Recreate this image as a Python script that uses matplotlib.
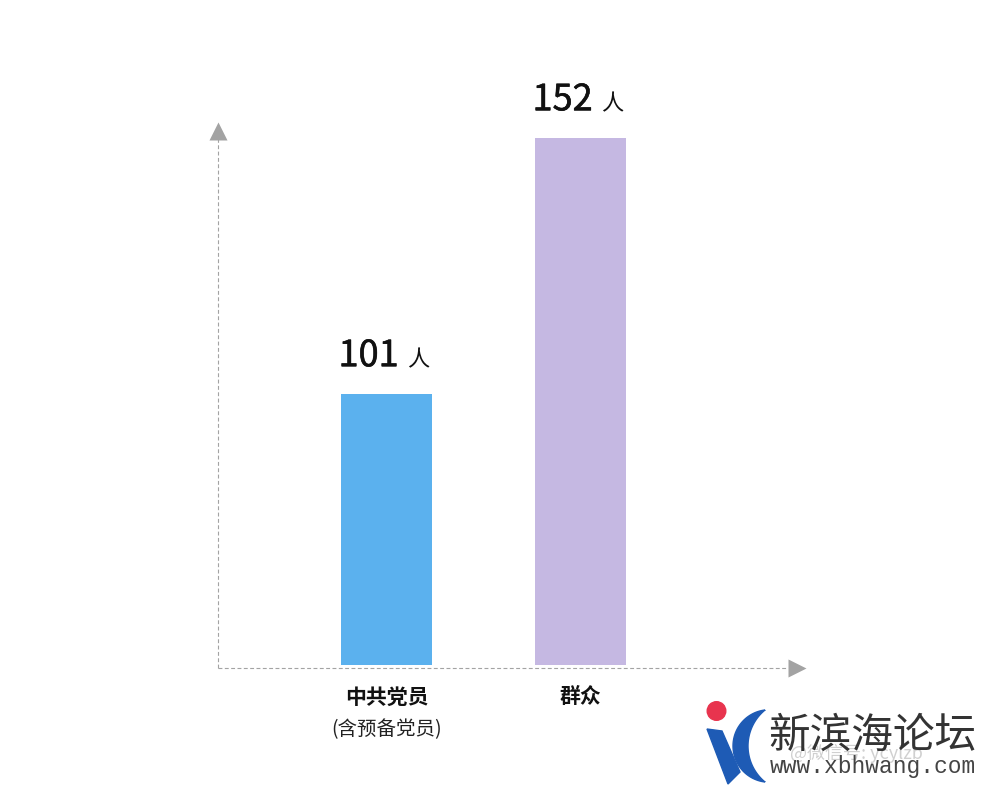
import numpy as np
import matplotlib
matplotlib.use("Agg")
import matplotlib.pyplot as plt
import matplotlib.patheffects as pe
from matplotlib.patches import Circle, Polygon

plt.rcParams['font.family'] = ['Noto Sans CJK SC', 'DejaVu Sans']

categories = ['中共党员', '群众']
sub_labels = ['(含预备党员)', '']
values = [101, 152]
unit = '人'
colors = ['#5BB1EE', '#C5B8E2']

fig = plt.figure(figsize=(10, 8), dpi=100)
ax = fig.add_axes([0.218, 0.165, 0.588, 0.6825])

x = np.arange(len(categories))
y_lo = 46.4
ax.bar(x, np.array(values) - y_lo - 0.6, bottom=y_lo + 0.6, width=0.47,
       color=colors, zorder=2)
ax.set_xlim(-0.869, 2.162)
ax.set_ylim(y_lo, 155.2)
ax.axis('off')

# dashed axes with arrow heads
grey = '#a3a3a3'
dash = (0, (3.5, 2.2))
ax.plot([0, 0], [0, 0.968], transform=ax.transAxes, color=grey, lw=0.8,
        ls=dash, clip_on=False)
ax.plot([0, 0.97], [0, 0], transform=ax.transAxes, color=grey, lw=0.8,
        ls=dash, clip_on=False)
ax.plot(0, 0.9835, marker='^', ms=13, color=grey, mec='none',
        transform=ax.transAxes, clip_on=False)
ax.plot(0.9847, 0, marker='>', ms=13, color=grey, mec='none',
        transform=ax.transAxes, clip_on=False)

# value labels (slightly thickened digits)
thick = [pe.withStroke(linewidth=0.4, foreground='#111111')]
for xi, v in zip(x, values):
    t = ax.annotate(str(v), xy=(xi, v), xytext=(-13, 20),
                    textcoords='offset points', ha='center', va='baseline',
                    fontsize=26, color='#111111', path_effects=thick)
    ax.annotate(unit, xy=(1, 0), xycoords=t, xytext=(6, 2),
                textcoords='offset points', ha='left', va='bottom',
                fontsize=16, color='#111111')

# category labels
tr = ax.get_xaxis_transform()
for xi, c, s in zip(x, categories, sub_labels):
    ax.text(xi, -0.053, c, transform=tr, ha='center', va='center',
            fontsize=15, fontweight='bold', color='#111111')
    if s:
        ax.text(xi, -0.113, s, transform=tr, ha='center', va='center',
                fontsize=14, color='#222222')

# watermark logo
wm = fig.add_axes([0, 0, 1, 1], zorder=5)
wm.set_xlim(0, 1000)
wm.set_ylim(800, 0)
wm.axis('off')
wm.add_patch(Circle((716.5, 711), 9.3, color='#E8344E'))
a1 = np.radians(np.linspace(96.7, 263.3, 60))
a2 = np.radians(np.linspace(230.6, 129.4, 60))
outer = np.column_stack([769.25 + 36.25 * np.cos(a1), 746 + 36.25 * np.sin(a1)])
inner = np.column_stack([794.6 + 46.6 * np.cos(a2), 746 + 46.6 * np.sin(a2)])
wm.add_patch(Polygon(np.vstack([outer, inner]), closed=True, color='#1E5BB5'))
wm.add_patch(Polygon([(707, 729), (722, 731), (740, 772), (728, 784)],
                     closed=True, color='#1E5BB5'))
wm.text(768, 736, '新滨海论坛', fontsize=30, color='#333333', va='center', ha='left')
wm.text(790, 753, '@微信号: ycylzb', fontsize=13, color='#d0d0d0', va='center',
        ha='left', zorder=0)
wm.text(770, 767, 'www.xbhwang.com', fontsize=16.5, color='#444444',
        family='Liberation Mono', va='center', ha='left')

fig.savefig('out.png', dpi=100, facecolor='white')
